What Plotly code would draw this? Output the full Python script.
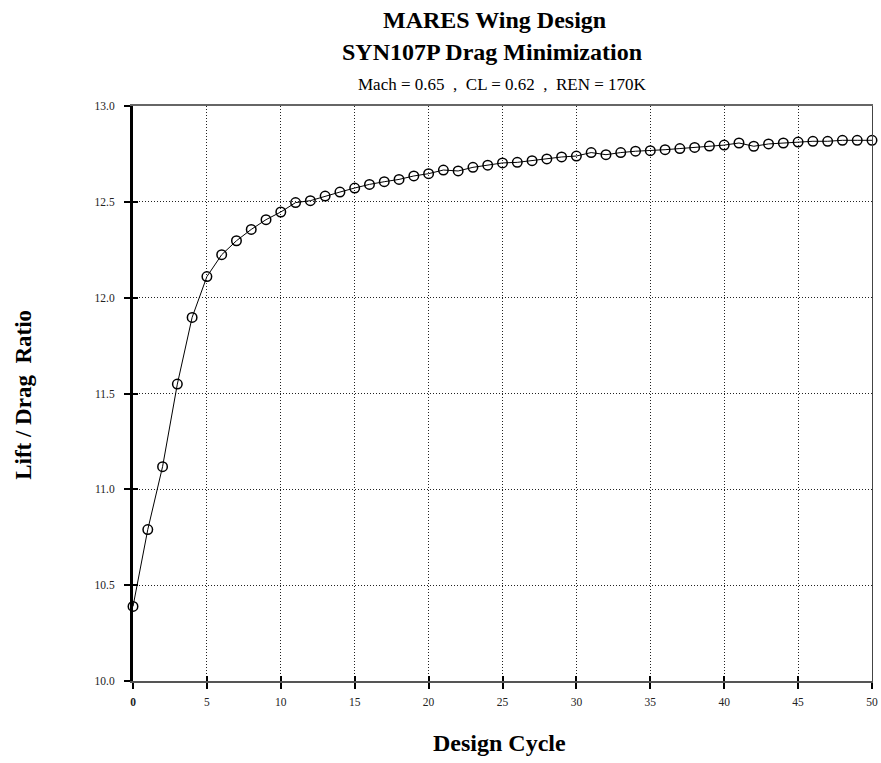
import plotly.graph_objects as go

design_cycle = list(range(0, 51))
lift_drag = [10.389, 10.79, 11.118, 11.549, 11.897, 12.11, 12.224, 12.297, 12.356, 12.407,
             12.447, 12.496, 12.506, 12.530, 12.551, 12.572, 12.591, 12.605, 12.617, 12.635,
             12.647, 12.666, 12.661, 12.680, 12.691, 12.703, 12.706, 12.715, 12.724, 12.734,
             12.739, 12.757, 12.746, 12.757, 12.764, 12.767, 12.772, 12.778, 12.784, 12.791,
             12.796, 12.807, 12.790, 12.802, 12.807, 12.812, 12.816, 12.816, 12.821, 12.821,
             12.821]
x_ticks = [0, 5, 10, 15, 20, 25, 30, 35, 40, 45, 50]
x_ticktext = ["<b>0</b>", "5", "10", "15", "20", "25", "30", "35", "40", "45", "50"]
y_ticks = [10.0, 10.5, 11.0, 11.5, 12.0, 12.5, 13.0]
y_ticktext = ["10.0", "10.5", "11.0", "11.5", "12.0", "12.5", "13.0"]

title1 = "MARES Wing Design"
title2 = "SYN107P Drag Minimization"
subtitle = "Mach = 0.65  ,  CL = 0.62  ,  REN = 170K"
x_title = "Design Cycle"
y_title = "Lift / Drag  Ratio"

FONT = "Liberation Serif, Times New Roman, serif"
W, H = 881, 763
# plot area in screen pixels
PX0, PX1, PY0, PY1 = 132.5, 871.7, 105.7, 680.7
L = PX0
R = W - PX1
T = PY0
B = H - PY1

fig = go.Figure()
fig.add_trace(go.Scatter(
    x=design_cycle, y=lift_drag, mode="lines+markers",
    line=dict(color="black", width=1),
    marker=dict(symbol="circle-open", size=9.5, color="black", line=dict(width=1.5)),
    showlegend=False, cliponaxis=False,
))
fig.add_trace(go.Scatter(x=[0, 50], y=[10, 13], xaxis="x2", yaxis="y2",
                         mode="none", showlegend=False, hoverinfo="skip"))
fig.add_trace(go.Scatter(x=[0, 50], y=[10, 13], xaxis="x3", yaxis="y3",
                         mode="none", showlegend=False, hoverinfo="skip"))

DOT = "1px,2px"
common = dict(automargin=False, zeroline=False)
fig.update_layout(
    width=W, height=H, autosize=False,
    margin=dict(l=L, r=R, t=T, b=B, pad=0, autoexpand=False),
    paper_bgcolor="white", plot_bgcolor="white",
    font=dict(family=FONT, color="#222"),
    xaxis=dict(range=[0, 50], tickvals=x_ticks, ticktext=x_ticktext,
               showgrid=True, gridcolor="#222", griddash=DOT, gridwidth=1,
               showline=True, linecolor="#555", linewidth=2,
               ticks="outside", ticklen=6, tickwidth=2, tickcolor="black",
               tickfont=dict(family=FONT, size=11.5, color="#222"),
               ticklabelstandoff=3, ticklabeloverflow="allow", **common),
    yaxis=dict(range=[10, 13], tickvals=y_ticks, ticktext=y_ticktext,
               showgrid=True, gridcolor="#222", griddash=DOT, gridwidth=1,
               showline=True, linecolor="black", linewidth=3,
               ticks="outside", ticklen=6, tickwidth=2, tickcolor="black",
               tickfont=dict(family=FONT, size=11.5, color="#222"),
               ticklabelstandoff=7, **common),
    xaxis2=dict(range=[0, 50], overlaying="x", tickvals=x_ticks, showticklabels=False,
                showgrid=False, showline=True, linecolor="#666", linewidth=2,
                side="top", ticks="", **common),
    yaxis2=dict(range=[10, 13], overlaying="y", tickvals=y_ticks, showticklabels=False,
                showgrid=False, showline=True, linecolor="#444", linewidth=1,
                side="right", ticks="", **common),
    xaxis3=dict(range=[0, 50], overlaying="x", tickvals=x_ticks, showticklabels=False,
                showgrid=False, showline=False, anchor="y",
                ticks="inside", ticklen=5, tickwidth=2, tickcolor="black", side="bottom",
                **common),
    yaxis3=dict(range=[10, 13], overlaying="y", tickvals=y_ticks, showticklabels=False,
                showgrid=False, showline=False, anchor="x",
                ticks="inside", ticklen=5, tickwidth=2, tickcolor="black", side="left",
                **common),
)


def px_x(px):
    return (px - PX0) / (PX1 - PX0)


def px_y(py):
    return (PY1 - py) / (PY1 - PY0)


ann = [
    dict(text="<b>" + title1 + "</b>", x=px_x(494), y=px_y(19.5), size=24),
    dict(text="<b>" + title2 + "</b>", x=px_x(491.5), y=px_y(51.5), size=24),
    dict(text=subtitle, x=px_x(502), y=px_y(84), size=17),
    dict(text="<b>" + x_title + "</b>", x=px_x(499), y=px_y(743), size=24),
]
for a in ann:
    fig.add_annotation(text=a["text"], x=a["x"], y=a["y"], xref="paper", yref="paper",
                       xanchor="center", yanchor="middle", showarrow=False,
                       font=dict(family=FONT, size=a["size"], color="black"))
fig.add_annotation(text="<b>" + y_title + "</b>", x=px_x(23), y=px_y(395),
                   xref="paper", yref="paper", xanchor="center", yanchor="middle",
                   textangle=-90, showarrow=False,
                   font=dict(family=FONT, size=23, color="black"))

fig.write_html("out.html", config={"displayModeBar": False},
               post_script="document.body.style.margin='0';document.body.style.overflow='hidden';")
